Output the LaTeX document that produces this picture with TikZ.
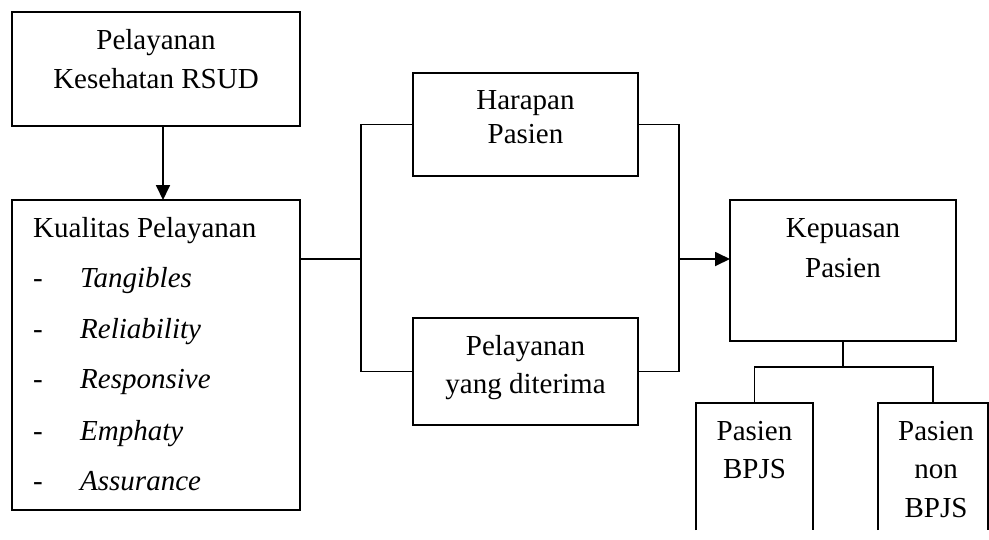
\documentclass[tikz,border=0pt]{standalone}
\usepackage{fontspec}
\setmainfont{Liberation Serif}
\usetikzlibrary{arrows.meta}
\begin{document}
\begin{tikzpicture}[x=1pt,y=-1pt,
  box/.style={draw,line width=1.8pt,inner sep=0pt,outer sep=0pt},
  openbox/.style={inner sep=0pt,outer sep=0pt},
  txt/.style={inner sep=0pt,anchor=base,font=\fontsize{29}{35}\selectfont},
  ltxt/.style={inner sep=0pt,anchor=base west,font=\fontsize{29}{35}\selectfont},
  conn/.style={line width=1.8pt},
  arr/.style={line width=1.8pt,-{Triangle[length=15pt,width=14pt]}}]
\useasboundingbox (0,0) rectangle (989,539);
% boxes
\node[box,minimum width=288pt,minimum height=114pt] (b1) at (156,69) {};
\node[box,minimum width=288pt,minimum height=310pt] (b2) at (156,355) {};
\node[box,minimum width=225pt,minimum height=103pt] (hp) at (525.5,124.5) {};
\node[box,minimum width=225pt,minimum height=107pt] (pd) at (525.5,371.5) {};
\node[box,minimum width=226pt,minimum height=141pt] (kp) at (843,270.5) {};
\node[openbox,minimum width=117pt,minimum height=127pt] (bpjs) at (754.5,466.5) {};
\node[openbox,minimum width=110pt,minimum height=127pt] (nbpjs) at (933,466.5) {};
\draw[conn] (bpjs.south west) |- (bpjs.north east) -- (bpjs.south east);
\draw[conn] (nbpjs.south west) |- (nbpjs.north east) -- (nbpjs.south east);
% texts
\node[txt] (t1a) at (156,49) {Pelayanan};
\node[txt] (t1b) at (156,88) {Kesehatan RSUD};
\node[ltxt] (t2) at (33,237) {Kualitas Pelayanan};
\foreach \y/\w [count=\i] in {287/Tangibles,338/Reliability,388/Responsive,440/Emphaty,490/Assurance}{
  \node[ltxt] (d\i) at (33,\y) {-};
  \node[ltxt] (l\i) at (80,\y) {\itshape \w};
}
\node[txt] (t3a) at (525.5,109) {Harapan};
\node[txt] (t3b) at (525.5,143) {Pasien};
\node[txt] (t4a) at (525.5,355) {Pelayanan};
\node[txt] (t4b) at (525.5,393) {yang diterima};
\node[txt] (t5a) at (843,237) {Kepuasan};
\node[txt] (t5b) at (843,277) {Pasien};
\node[txt] (t6a) at (754.5,440) {Pasien};
\node[txt] (t6b) at (754.5,478) {BPJS};
\node[txt] (t7a) at (936,440) {Pasien};
\node[txt] (t7b) at (936,478) {non};
\node[txt] (t7c) at (936,517) {BPJS};
% connectors
\coordinate (ax) at (163,0);
\coordinate (j1) at (361,259);
\coordinate (j2) at (679,259);
\coordinate (j3) at (843,367);
\draw[arr] (b1.south -| ax) -- (b2.north -| ax);
\draw[conn] (b2.east |- j1) -- (j1);
\draw[conn] (hp.west) -| (j1) |- (pd.west);
\draw[conn] (hp.east) -| (j2) |- (pd.east);
\draw[arr] (j2) -- (kp.west |- j2);
\draw[conn] (kp.south) -- (j3);
\draw[conn] (bpjs.north) |- (j3) -| (nbpjs.north);
\end{tikzpicture}
\end{document}
